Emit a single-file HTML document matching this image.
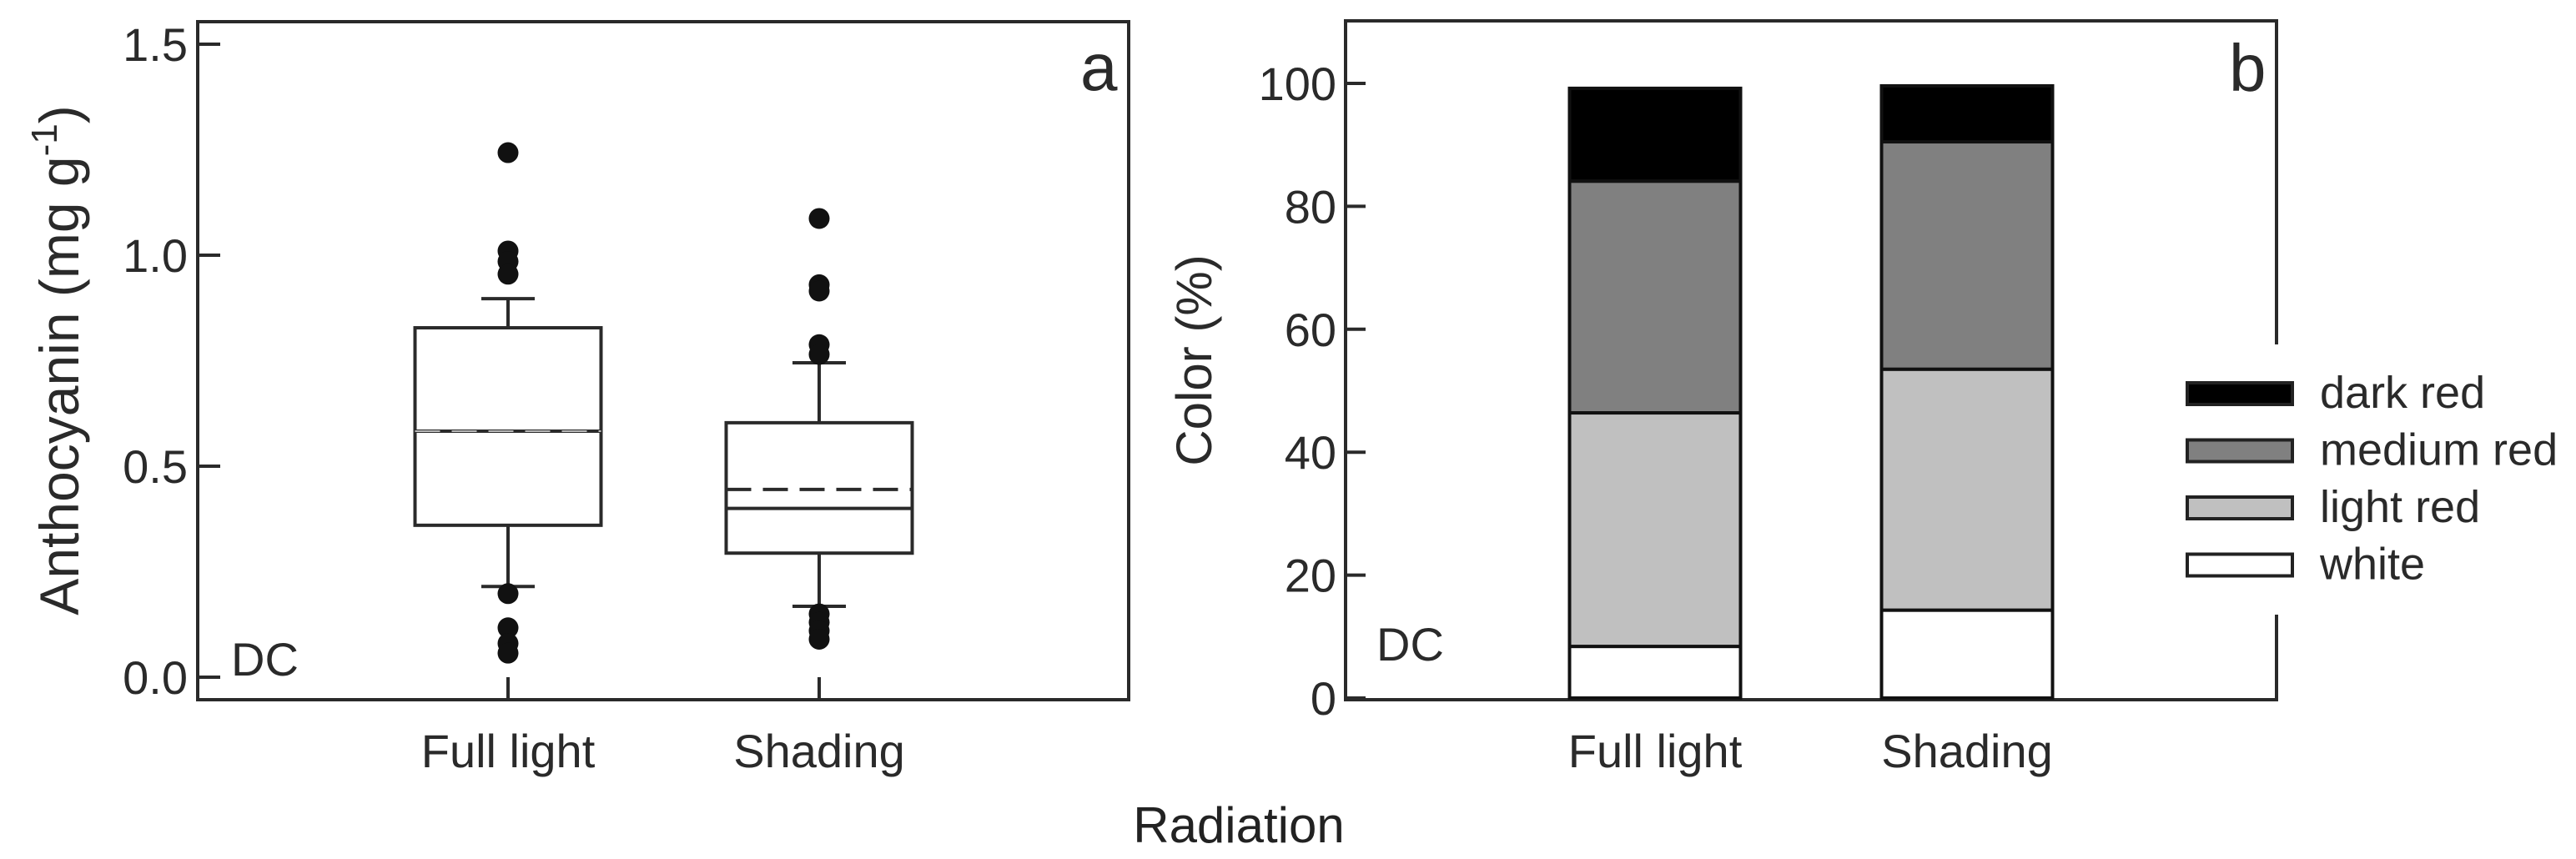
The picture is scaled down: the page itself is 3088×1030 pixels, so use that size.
<!DOCTYPE html>
<html><head><meta charset="utf-8"><style>
html,body{margin:0;padding:0;background:#fff;}
svg{display:block;font-family:"Liberation Sans",Arial,sans-serif;}
</style></head><body>
<svg id="fig" width="3088" height="1030" viewBox="0 0 3088 1030" xmlns="http://www.w3.org/2000/svg">
<g id="pa"></g>
<g id="pb"></g>
<text x="1485" y="1010" font-size="60" text-anchor="middle" fill="#222">Radiation</text>
</svg>
<script>
// Panel a data
const groupsA = ["Full light", "Shading"];
const q1A = [0.36, 0.294];
const medA = [0.583, 0.40];
const meanA = [0.583, 0.445];
const q3A = [0.828, 0.603];
const whiskLoA = [0.215, 0.168];
const whiskHiA = [0.897, 0.745];
const outliersFL = [1.243, 1.01, 0.985, 0.955, 0.198, 0.117, 0.08, 0.057];
const outliersSH = [1.087, 0.93, 0.915, 0.788, 0.765, 0.15, 0.13, 0.11, 0.09];
const ticksA = [0.0, 0.5, 1.0, 1.5];
const tickLabelsA = ["0.0", "0.5", "1.0", "1.5"];
// Panel b data
const groupsB = ["Full light", "Shading"];
const seriesNames = ["white", "light red", "medium red", "dark red"];
const whiteB = [8.4, 14.3];
const lightRedB = [38.0, 39.2];
const mediumRedB = [37.7, 37.0];
const darkRedB = [15.1, 9.1];
const ticksB = [0, 20, 40, 60, 80, 100];

const NS = "http://www.w3.org/2000/svg";
function mk(parent, tag, attrs, text) {
  const e = document.createElementNS(NS, tag);
  for (const k in attrs) e.setAttribute(k, attrs[k]);
  if (text !== undefined) e.textContent = text;
  parent.appendChild(e);
  return e;
}
const INK = "#2a2a2a";

// ---------- Panel A ----------
const pa = document.getElementById("pa");
const aL = 237, aR = 1353, aT = 26, aB = 839;
const yA = v => 812 - 506 * v;
const xA = i => [609, 982][i];
const boxW = 223;
let e;
e = mk(pa, "rect", {x: aL, y: aT, width: aR - aL, height: aB - aT, fill: "none", stroke: INK, "stroke-width": 4});


ticksA.forEach((t, i) => {
  const y = yA(t);
  e = mk(pa, "line", {x1: aL, x2: aL + 27, y1: y, y2: y, stroke: INK, "stroke-width": 4});
  
  
  e = mk(pa, "text", {x: 225, y: y + 20, "font-size": 56, "text-anchor": "end", fill: INK}, tickLabelsA[i]);
  
  
});
groupsA.forEach((g, i) => {
  const cx = xA(i);
  e = mk(pa, "line", {x1: cx, x2: cx, y1: aB, y2: aB - 27, stroke: INK, "stroke-width": 4});
  
  
  e = mk(pa, "text", {x: cx, y: 920, "font-size": 56, "text-anchor": "middle", fill: INK}, g);
  
  
  e = mk(pa, "line", {x1: cx, x2: cx, y1: yA(q3A[i]), y2: yA(whiskHiA[i]), stroke: INK, "stroke-width": 4});
  
  
  e = mk(pa, "line", {x1: cx, x2: cx, y1: yA(q1A[i]), y2: yA(whiskLoA[i]), stroke: INK, "stroke-width": 4});
  
  
  e = mk(pa, "line", {x1: cx - 32, x2: cx + 32, y1: yA(whiskHiA[i]), y2: yA(whiskHiA[i]), stroke: INK, "stroke-width": 4});
  
  
  e = mk(pa, "line", {x1: cx - 32, x2: cx + 32, y1: yA(whiskLoA[i]), y2: yA(whiskLoA[i]), stroke: INK, "stroke-width": 4});
  
  
  e = mk(pa, "rect", {x: cx - boxW / 2, y: yA(q3A[i]), width: boxW, height: yA(q1A[i]) - yA(q3A[i]), fill: "#fff", stroke: INK, "stroke-width": 4});
  
  
  e = mk(pa, "line", {x1: cx - boxW / 2, x2: cx + boxW / 2, y1: yA(medA[i]), y2: yA(medA[i]), stroke: INK, "stroke-width": 4});
  
  
  e = mk(pa, "line", {x1: cx - boxW / 2, x2: cx + boxW / 2, y1: yA(meanA[i]), y2: yA(meanA[i]), stroke: i === 0 ? "#bbb" : INK, "stroke-width": i === 0 ? 2 : 4, "stroke-dasharray": "30 14"});
  
  
  const outs = i === 0 ? outliersFL : outliersSH;
  outs.forEach(v => {
    e = mk(pa, "circle", {cx: cx, cy: yA(v), r: 12.5, fill: "#111"});
    
    
  });
});
e = mk(pa, "text", {x: 277, y: 810, "font-size": 56, fill: INK}, "DC");


e = mk(pa, "text", {x: 1295, y: 108, "font-size": 80, fill: INK}, "a");


e = mk(pa, "text", {x: 0, y: 0, "font-size": 66, "text-anchor": "middle", fill: INK, transform: "translate(94,432) rotate(-90)"});


e.appendChild(document.createTextNode("Anthocyanin (mg g"));
const sup = mk(e, "tspan", {dy: -26, "font-size": 44}, "-1");
mk(e, "tspan", {dy: 26}, ")");

// ---------- Panel B ----------
const pb = document.getElementById("pb");
const bL = 1613, bR = 2729, bT = 25, bB = 839;
const yB = v => 837 - 7.37 * v;
const xB = i => [1984, 2358][i];
const barW = 205;
e = mk(pb, "path", {d: `M${bR},413 L${bR},${bT} L${bL},${bT} L${bL},${bB} L${bR},${bB} L${bR},737`, fill: "none", stroke: INK, "stroke-width": 4});


ticksB.forEach(t => {
  const y = yB(t);
  e = mk(pb, "line", {x1: bL, x2: bL + 24, y1: y, y2: y, stroke: INK, "stroke-width": 4});
  
  
  e = mk(pb, "text", {x: 1602, y: y + 20, "font-size": 56, "text-anchor": "end", fill: INK}, String(t));
  
  
});
const fills = ["#ffffff", "#c0c0c0", "#808080", "#000000"];
const stacks = [whiteB, lightRedB, mediumRedB, darkRedB];
groupsB.forEach((g, i) => {
  const cx = xB(i);
  let base = 0;
  stacks.forEach((s, k) => {
    const top = base + s[i];
    e = mk(pb, "rect", {x: cx - barW / 2, y: yB(top), width: barW, height: yB(base) - yB(top), fill: fills[k], stroke: "#111", "stroke-width": 4});
    
    
    base = top;
  });
  e = mk(pb, "text", {x: cx, y: 920, "font-size": 56, "text-anchor": "middle", fill: INK}, g);
  
  
});
e = mk(pb, "text", {x: 1650, y: 792, "font-size": 56, fill: INK}, "DC");


e = mk(pb, "text", {x: 2672, y: 109, "font-size": 80, fill: INK}, "b");


e = mk(pb, "text", {x: 0, y: 0, "font-size": 60, "text-anchor": "middle", fill: INK, transform: "translate(1452,432) rotate(-90)"}, "Color (%)");


const legOrder = [3, 2, 1, 0];
legOrder.forEach((k, j) => {
  const y = 459 + j * 68.5;
  e = mk(pb, "rect", {x: 2622, y: y, width: 126, height: 26, fill: fills[k], stroke: "#222", "stroke-width": 4});
  
  
  e = mk(pb, "text", {x: 2781, y: y + 30, "font-size": 54, fill: INK}, seriesNames[k]);
  
  
});
</script>
</body></html>
